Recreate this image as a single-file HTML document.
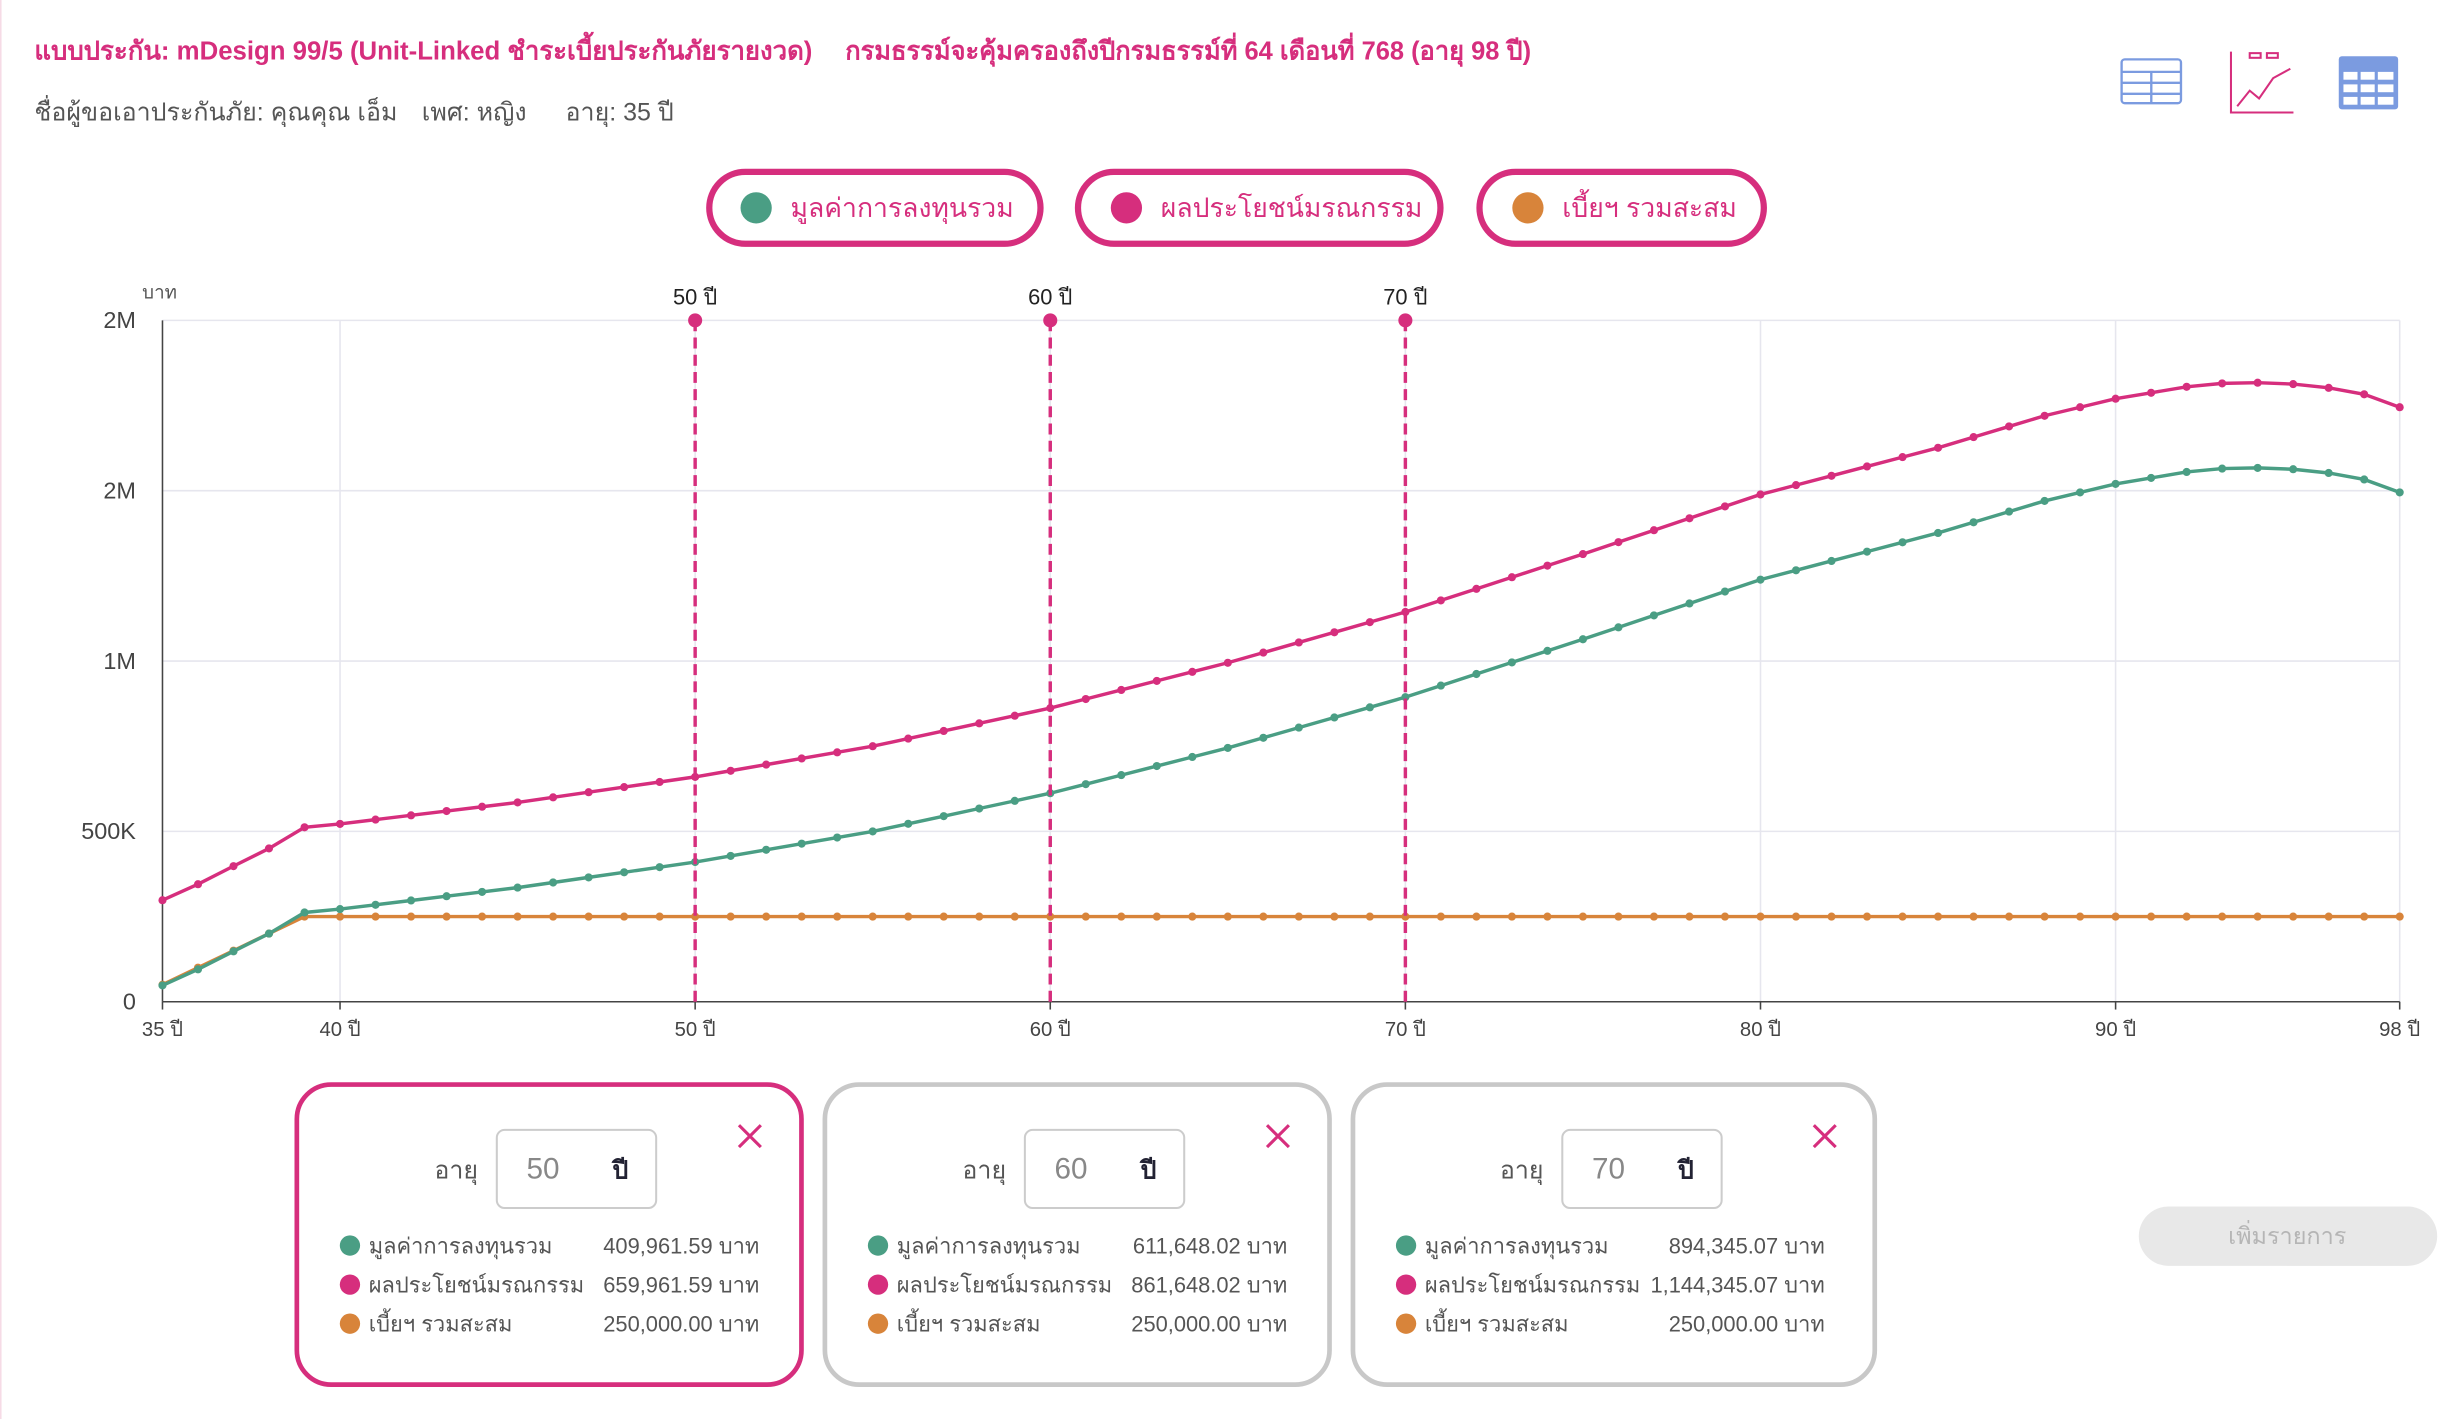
<!DOCTYPE html>
<html><head><meta charset="utf-8">
<style>
html,body{margin:0;padding:0;background:#fff;}
svg{display:block;font-family:"Liberation Sans","DejaVu Sans",sans-serif;}
</style></head>
<body>
<svg id="s" width="2445" height="1419" viewBox="0 0 1565 908" preserveAspectRatio="none" xmlns="http://www.w3.org/2000/svg">
<rect width="1565" height="908" fill="#fff"/>
<line x1="0.5" y1="0" x2="0.5" y2="908" stroke="#f6dbe6"/>
<text x="22" y="38" font-size="16.5" font-weight="bold" fill="#d62e7d" textLength="498" lengthAdjust="spacingAndGlyphs">แบบประกัน: mDesign 99/5 (Unit-Linked ชำระเบี้ยประกันภัยรายงวด)</text>
<text x="541" y="38" font-size="16.5" font-weight="bold" fill="#d62e7d" textLength="439" lengthAdjust="spacingAndGlyphs">กรมธรรม์จะคุ้มครองถึงปีกรมธรรม์ที่ 64 เดือนที่ 768 (อายุ 98 ปี)</text>
<text x="22" y="77" font-size="16" fill="#555">ชื่อผู้ขอเอาประกันภัย: คุณคุณ เอ็ม</text>
<text x="270" y="77" font-size="16" fill="#555">เพศ: หญิง</text>
<text x="362" y="77" font-size="16" fill="#555">อายุ: 35 ปี</text>
<!-- icons -->
<g fill="none" stroke="#7b9be0" stroke-width="1.5">
<rect x="1358" y="38" width="38" height="28" rx="2"/>
<line x1="1358" y1="46" x2="1396" y2="46"/><line x1="1358" y1="53" x2="1396" y2="53"/><line x1="1358" y1="60" x2="1396" y2="60"/>
<line x1="1377" y1="46" x2="1377" y2="66"/>
</g>
<g fill="none" stroke="#d62e7d" stroke-width="1.3">
<polyline points="1428,33 1428,72 1468,72"/>
<polyline points="1432,68 1440,58 1446,63 1455,50 1466,44"/>
<rect x="1440" y="34" width="7" height="3"/><rect x="1451" y="34" width="7" height="3"/>
</g>
<g>
<rect x="1497" y="36" width="38" height="34" rx="2" fill="#7b9be0"/>
<g fill="#fff"><rect x="1500" y="46" width="9" height="5"/><rect x="1511" y="46" width="9" height="5"/><rect x="1522" y="46" width="10" height="5"/>
<rect x="1500" y="54" width="9" height="5"/><rect x="1511" y="54" width="9" height="5"/><rect x="1522" y="54" width="10" height="5"/>
<rect x="1500" y="62" width="9" height="5"/><rect x="1511" y="62" width="9" height="5"/><rect x="1522" y="62" width="10" height="5"/></g>
</g>
<!-- legend pills -->
<g stroke="#d62e7d" stroke-width="4" fill="#fff">
<rect x="454" y="110" width="212" height="46" rx="23"/>
<rect x="690" y="110" width="232" height="46" rx="23"/>
<rect x="947" y="110" width="182" height="46" rx="23"/>
</g>
<circle cx="484" cy="133" r="10" fill="#4a9e84"/>
<circle cx="721" cy="133" r="10" fill="#d62e7d"/>
<circle cx="978" cy="133" r="10" fill="#d8843a"/>
<g font-size="17" fill="#d62e7d">
<text x="506" y="139">มูลค่าการลงทุนรวม</text>
<text x="743" y="139">ผลประโยชน์มรณกรรม</text>
<text x="1000" y="139">เบี้ยฯ รวมสะสม</text>
</g>
<!-- axes -->
<g id="grid" stroke="#e6e6ee" stroke-width="1"></g>
<text x="91" y="191" font-size="12" fill="#555">บาท</text>
<g font-size="15" fill="#444" text-anchor="end">
<text x="87" y="210">2M</text><text x="87" y="319">2M</text><text x="87" y="428">1M</text><text x="87" y="537">500K</text><text x="87" y="646">0</text>
</g>
<line x1="104" y1="205" x2="104" y2="641" stroke="#444"/>
<line x1="104" y1="641" x2="1536" y2="641" stroke="#444"/>
<g id="xt" font-size="13" fill="#444" text-anchor="middle"></g>
<g id="series"></g>
<g id="marks"></g>
<!-- cards -->
<g>
<rect x="190" y="694" width="323" height="192" rx="22" fill="#fff" stroke="#d62e7d" stroke-width="3"/>
<rect x="528" y="694" width="323" height="192" rx="22" fill="#fff" stroke="#c8c8c8" stroke-width="3"/>
<rect x="866" y="694" width="334" height="192" rx="22" fill="#fff" stroke="#c8c8c8" stroke-width="3"/>
</g>
<g id="cards"></g>
<rect x="1369" y="772" width="191" height="38" rx="19" fill="#e8e8e8"/>
<text x="1464" y="796" font-size="15" fill="#b5b5b5" text-anchor="middle">เพิ่มรายการ</text>
</svg>
<script>
var NS="http://www.w3.org/2000/svg";
function el(p,t,a,txt){var e=document.createElementNS(NS,t);for(var k in a)e.setAttribute(k,a[k]);if(txt!=null)e.textContent=txt;document.getElementById(p).appendChild(e);return e;}
function X(a){return 104+(a-35)*(1432/63);}
function Y(v){return 641-v/2000000*436;}
var grid=[205,314,423,532];grid.forEach(function(y){el("grid","line",{x1:104,y1:y,x2:1536,y2:y});});
[40,50,60,70,80,90].forEach(function(a){el("grid","line",{x1:X(a),y1:205,x2:X(a),y2:641});});
el("grid","line",{x1:1536,y1:205,x2:1536,y2:641});
[35,40,50,60,70,80,90,98].forEach(function(a){el("xt","text",{x:X(a),y:663},a+" ปี");el("xt","line",{x1:X(a),y1:641,x2:X(a),y2:646,stroke:"#444"});});
var kp=[[35,48e3],[36,95e3],[37,148e3],[38,200e3],[39,262e3],[40,272e3],[45,335e3],[50,410e3],[55,500e3],[60,612e3],[65,745e3],[70,894e3],[75,1064e3],[80,1239e3],[85,1376e3],[88,1470e3],[90,1520e3],[92,1555e3],[93,1565e3],[94,1567e3],[95,1563e3],[96,1552e3],[97,1533e3],[98,1495e3]];
function g(a){for(var i=0;i<kp.length-1;i++){if(a>=kp[i][0]&&a<=kp[i+1][0]){var t=(a-kp[i][0])/(kp[i+1][0]-kp[i][0]);return kp[i][1]+t*(kp[i+1][1]-kp[i][1]);}}return kp[kp.length-1][1];}
function o(a){return Math.min(250000,(a-34)*50000);}
var S=[["#d8843a",o],["#4a9e84",g],["#d62e7d",function(a){return g(a)+250000;}]];
S.forEach(function(s){var pts=[];for(var a=35;a<=98;a++){pts.push(X(a)+","+Y(s[1](a)));}
el("series","polyline",{points:pts.join(" "),fill:"none",stroke:s[0],"stroke-width":2.2});
for(var a=35;a<=98;a++)el("series","circle",{cx:X(a),cy:Y(s[1](a)),r:2.6,fill:s[0]});});
[50,60,70].forEach(function(a){var x=X(a);el("marks","line",{x1:x,y1:205,x2:x,y2:641,stroke:"#d62e7d","stroke-width":2.2,"stroke-dasharray":"7,4"});
el("marks","circle",{cx:x,cy:205,r:4.5,fill:"#d62e7d"});el("marks","text",{x:x,y:195,"font-size":14,"text-anchor":"middle",fill:"#222"},a+" ปี");});
var cd=[[190,"50","409,961.59","659,961.59",0],[528,"60","611,648.02","861,648.02",0],[866,"70","894,345.07","1,144,345.07",6]];
cd.forEach(function(c,i){var x=c[0],ox=c[4];
el("cards","text",{x:x+116+ox,y:754,"font-size":16,fill:"#555","text-anchor":"end"},"อายุ");
el("cards","rect",{x:x+128+ox,y:723,width:102,height:50,rx:5,fill:"#fff",stroke:"#ccc","stroke-width":1.3});
el("cards","text",{x:x+147+ox,y:754,"font-size":19,fill:"#888"},c[1]);
el("cards","text",{x:x+202+ox,y:754,"font-size":16,"font-weight":"bold",fill:"#223"},"ปี");
var cx=x+290+ox*2;
el("cards","path",{d:"M"+(cx-7)+" 720 L"+(cx+7)+" 734 M"+(cx+7)+" 720 L"+(cx-7)+" 734",stroke:"#d62e7d","stroke-width":2});
var lab=["มูลค่าการลงทุนรวม","ผลประโยชน์มรณกรรม","เบี้ยฯ รวมสะสม"],col=["#4a9e84","#d62e7d","#d8843a"],val=[c[2],c[3],"250,000.00"];
for(var j=0;j<3;j++){var y=797+j*25;
el("cards","circle",{cx:x+34,cy:y,r:6.5,fill:col[j]});
el("cards","text",{x:x+46,y:y+5,"font-size":14,fill:"#555"},lab[j]);
el("cards","text",{x:x+296+ox,y:y+5,"font-size":14,fill:"#555","text-anchor":"end"},val[j]+" บาท");}
});
</script>
</body></html>
